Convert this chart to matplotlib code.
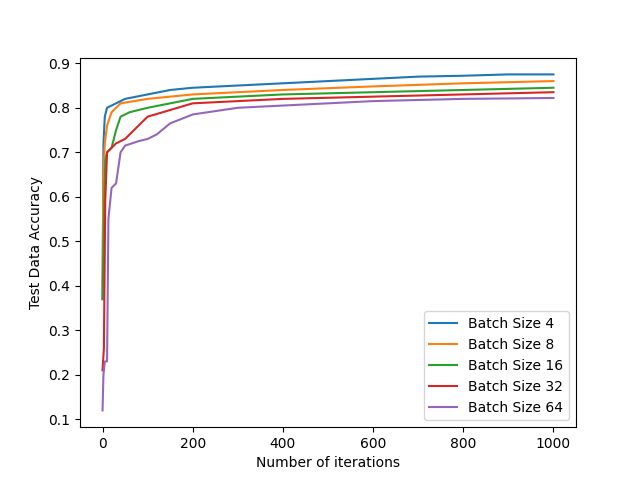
import matplotlib
matplotlib.use('Agg')
import matplotlib.pyplot as plt

# values at selected iterations
it_4 = [0, 2, 5, 10, 30, 50, 100, 150, 200, 300, 400, 500, 600, 700, 800, 900, 1000]
acc_4 = [0.37, 0.72, 0.78, 0.80, 0.81, 0.82, 0.83, 0.84, 0.845, 0.85, 0.855, 0.86, 0.865, 0.87, 0.872, 0.875, 0.875]

it_8 = [0, 2, 5, 10, 20, 40, 100, 200, 400, 600, 800, 1000]
acc_8 = [0.40, 0.65, 0.72, 0.76, 0.79, 0.81, 0.82, 0.83, 0.84, 0.848, 0.855, 0.86]

it_16 = [0, 3, 6, 10, 20, 30, 40, 60, 100, 150, 200, 400, 600, 800, 1000]
acc_16 = [0.37, 0.55, 0.68, 0.70, 0.71, 0.75, 0.78, 0.79, 0.80, 0.81, 0.82, 0.83, 0.835, 0.84, 0.845]

it_32 = [0, 3, 6, 10, 20, 30, 50, 80, 100, 150, 200, 300, 400, 600, 800, 1000]
acc_32 = [0.21, 0.26, 0.59, 0.70, 0.71, 0.72, 0.73, 0.76, 0.78, 0.795, 0.81, 0.815, 0.82, 0.825, 0.83, 0.835]

it_64 = [0, 2, 5, 10, 13, 20, 30, 40, 50, 80, 100, 120, 150, 200, 300, 400, 600, 800, 1000]
acc_64 = [0.12, 0.20, 0.23, 0.23, 0.55, 0.62, 0.63, 0.70, 0.715, 0.725, 0.73, 0.74, 0.765, 0.785, 0.80, 0.805, 0.815, 0.82, 0.822]

fig, ax = plt.subplots(figsize=(6.4, 4.8), dpi=100)
ax.plot(it_4, acc_4, label='Batch Size 4')
ax.plot(it_8, acc_8, label='Batch Size 8')
ax.plot(it_16, acc_16, label='Batch Size 16')
ax.plot(it_32, acc_32, label='Batch Size 32')
ax.plot(it_64, acc_64, label='Batch Size 64')
ax.set_xlabel('Number of iterations')
ax.set_ylabel('Test Data Accuracy')
ax.legend(loc='lower right')
fig.savefig('out.png')
